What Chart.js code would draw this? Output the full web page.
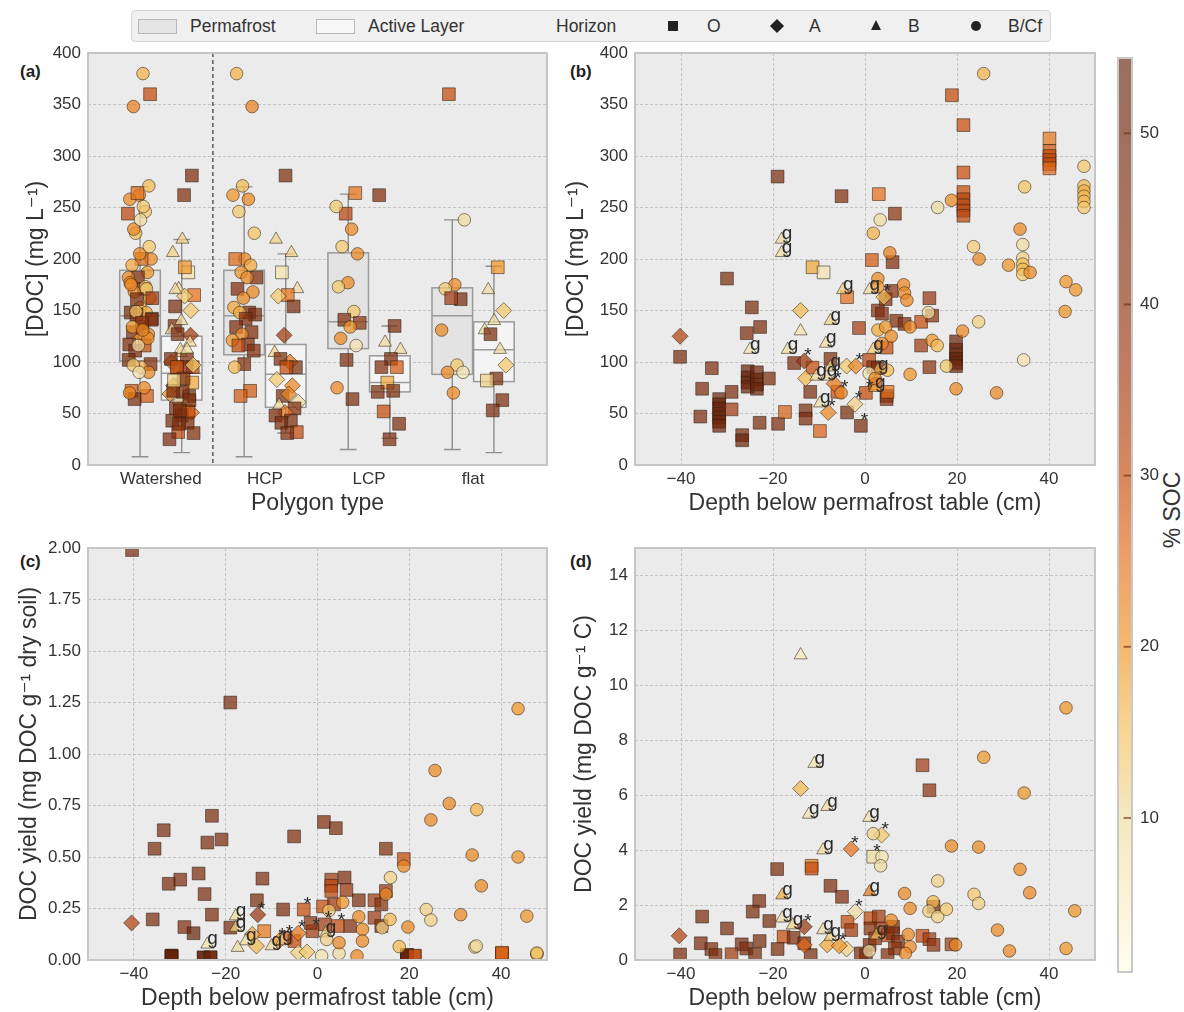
<!DOCTYPE html>
<html><head><meta charset="utf-8">
<script src="https://cdn.jsdelivr.net/npm/chart.js@4.4.1/dist/chart.umd.min.js"></script>
<style>
html,body{margin:0;padding:0;background:#fff;}
body{width:1184px;height:1012px;position:relative;overflow:hidden;font-family:"Liberation Sans","DejaVu Sans",Arial,sans-serif;color:#333;}
.panel{position:absolute;}
.plab{position:absolute;font-weight:bold;font-size:17px;color:#222;line-height:20px;}
#legend{position:absolute;left:131px;top:10px;width:918px;height:30px;background:#f0f0f0;border:1px solid #d6d6d6;border-radius:4px;}
.lg{position:absolute;top:0;line-height:30px;font-size:17.5px;color:#333;white-space:nowrap;}
.patch{position:absolute;top:8px;width:37px;height:13px;border:1px solid #b8b8b8;}
.mk{position:absolute;background:#222;}
#cbtitle{position:absolute;left:1122px;top:496px;width:100px;height:28px;line-height:28px;text-align:center;font-size:23px;color:#333;transform:rotate(-90deg);}
</style></head><body>
<div id="legend">
  <div class="patch" style="left:6px;background:#e4e4e4"></div><div class="lg" style="left:58px">Permafrost</div>
  <div class="patch" style="left:184px;background:#f8f8f8"></div><div class="lg" style="left:236px">Active Layer</div>
  <div class="lg" style="left:424px">Horizon</div>
  <div class="mk" style="left:536px;top:10px;width:10px;height:10px"></div><div class="lg" style="left:575px">O</div>
  <div class="mk" style="left:640px;top:10px;width:10px;height:10px;transform:rotate(45deg)"></div><div class="lg" style="left:677px">A</div>
  <div style="position:absolute;left:739px;top:9px;width:0;height:0;border-left:5.5px solid transparent;border-right:5.5px solid transparent;border-bottom:10px solid #222"></div><div class="lg" style="left:776px">B</div>
  <div class="mk" style="left:839px;top:10px;width:10px;height:10px;border-radius:50%"></div><div class="lg" style="left:876px">B/Cf</div>
</div>
<div class="plab" style="left:20px;top:62px">(a)</div>
<div class="plab" style="left:570px;top:62px">(b)</div>
<div class="plab" style="left:20px;top:552px">(c)</div>
<div class="plab" style="left:570px;top:552px">(d)</div>
<div id="cbtitle">% SOC</div>
<script>
// ======================= DATA =======================
const polygonTypes = ['Watershed', 'HCP', 'LCP', 'flat'];
const docTicks = [0, 50, 100, 150, 200, 250, 300, 350, 400];
const depthTicks = [-40, -20, 0, 20, 40];
const yieldSoilTicks = [0, 0.25, 0.5, 0.75, 1, 1.25, 1.5, 1.75, 2];
const yieldCTicks = [0, 2, 4, 6, 8, 10, 12, 14];
const socTicks = [10, 20, 30, 40, 50];
const socMin = 1, socMax = 54.4;

// Panel (a) box statistics, order: Watershed PF, Watershed AL, HCP PF, HCP AL, LCP PF, LCP AL, flat PF, flat AL
const boxLow  = [8, 12, 8, 31, 15, 26, 15, 12];
const boxQ1   = [101, 63, 107, 56, 113, 71, 88, 81];
const boxMed  = [145, 89, 145, 88, 139, 80, 145, 112];
const boxQ3   = [189, 125, 189, 117, 206, 106, 172, 139];
const boxHigh = [270, 219, 270, 205, 263, 135, 238, 193];

// Panel (a) strip points per polygon type and layer (DOC mg/L, %SOC, horizon)
const hcpPfDoc = [380,348,271,262,258,246,225,200,200,194,187,182,182,171,168,162,153,148,148,146,142,134,129,127,121,117,116,111,98,95,72,67];
const hcpPfSoc = [17,23,16,20,22,14,15,22,26,18,20,44,22,44,22,22,18,46,18,46,44,44,44,22,20,44,30,44,44,16,28,28];
const hcpPfHor = 'CCCCCCCCOCCOCOCCCOCOOOOCCOOOOCOO';
const hcpAlDoc = [281,219,206,187,171,165,164,154,126,109,100,103,95,95,83,77,67,61,69,58,55,51,48,43,41,32,31];
const hcpAlSoc = [46,12,12,8,10,25,14,46,36,12,24,46,44,30,14,22,46,10,22,10,44,24,46,46,46,30,44];
const hcpAlHor = 'OBBOBOAOABAOOOAAOAABOAOOOOO';
const lcpPfDoc = [264,244,251,229,212,205,177,173,149,141,138,134,123,116,102,75,64];
const lcpPfSoc = [25,32,14,22,14,22,22,14,14,44,40,20,22,8,46,22,46];
const lcpPfHor = 'OOCCCCCCCOOCCCOCO';
const lcpAlDoc = [262,135,119,112,103,95,95,80,71,72,52,40,25];
const lcpAlSoc = [44,46,10,10,46,44,28,18,46,46,30,46,46];
const lcpAlHor = 'OOBBOOOOOOOOO';
const flatPfDoc = [360,238,175,171,161,162,131,97,90,90,70];
const flatPfSoc = [30,10,22,14,46,36,22,14,22,8,22];
const flatPfHor = 'OCCCOOCCCCC';
const flatAlDoc = [192,170,150,140,131,112,127,97,84,82,63,53];
const flatAlSoc = [20,10,14,10,10,10,46,14,46,12,46,46];
const flatAlHor = 'OBABBBOAOOOO';

// Panel (b): DOC (mg/L) vs depth below permafrost table
const bDepth = [
 -40.2,-35.4,-35.8,-33.3,-31.7,-31.7,-31.7,-31.7,-31.7,-31.7,-31.7,-30,-29,-29,-26.7,-26.7,-25.7,-24.6,-25.5,-25.5,-25.5,-25.5,-23.5,-23.5,-23.5,-23.5,-22.8,-22.9,-20.9,-19,-18.9,-17.4,-15.4,-12.9,-12.9,-11.9,-11.4,-11.4,-9,-9.8,-7.5,-6,-5.1,-3.9,-3.9,-1.3,-0.9,0.9,0.2,1.5,1.8,2.2,2.8,2.8,3.0,3.7,4.5,4.7,4.7,4.7,4.9,5.8,6.0,6.5,6.8,8.6,12.2,12.2,14,14.6,14,18.9,19.8,19.8,19.8,19.8,19.8,19.8,21.4,21.4,21.4,21.4,21.4,21.4,21.4,40.1,40.1,40.1,40.1,40.1,40.1,
 -40.2,-14,-13.2,-12.9,-8,-6.7,-4,-2,-2.2,4.1,
 -25,-18.1,-18.1,-16.8,-14,-10.6,-8.3,-8.5,-7.5,-7.5,-9.8,-4.8,1.0,1.8,2.8,2.2,
 1.8,3.3,5.4,2.8,2.8,8.4,8.6,9.1,2.8,4.5,5.7,9.8,3.7,0.9,2.2,4.9,-5.2,9.8,13.8,14.6,15.7,17.7,19.8,21.2,24.7,28.6,15.8,18.8,23.6,24.8,25.8,31.2,33.7,34.3,34.3,34.3,34.3,34.3,34.5,34.7,35.9,43.5,43.7,45.8,47.6,47.6,47.6,47.6,47.6,47.6
];
const bDoc = [
 105,74,47,94,64,59,55,50,46,42,38,181,71,54,29,24,128,153,91,85,80,76,90,83,78,74,134,41,84,280,40,51.5,99,53,45,71,94.5,192,187,33,103,71,261,163,51,133,38,102,70,199,95,79,94,150,263,147,161,114,67,64,71,169,197,244,140,137,139,116,162,145,95,359,120,112,107,103,99,96,330,284,265,258,252,247,242,317,305,300,296,292,288,
 125,150,101,84,51,79,96,96,59,163,
 112,219,206,112,130,86,86,118,140,95,60,170,170,112,92,75,
 225,238,206,181,173,175,167,160,131,134,125,134,118,89,84,92,70,88,148,121,116,96,74,130,139,70,250,257,212,200,380,194,229,214,201,195,190,185,102,270,187,149,178,170,290,271,266,261,256,250
];
const bSoc = [
 46,46,46,45,50,52,52,52,52,52,50,46,46,36,46,52,46,46,50,52,52,52,50,52,52,52,46,46,46,46,46,27,46,46,46,46,30,18,8,27,46,30,44,25,46,35,46,32,30,28,40,28,44,42,25,44,44,30,44,40,25,42,44,40,44,44,30,36,38,40,42,30,50,50,52,52,52,50,30,30,30,32,32,32,32,24,28,30,30,30,26,
 33,16,38,16,22,24,14,22,12,16,
 8,10,10,10,8,10,10,10,12,12,10,12,10,14,16,18,
 17,10,23,22,20,22,22,22,18,20,22,22,22,8,22,16,22,20,10,20,16,14,22,22,12,22,10,22,13,22,17,20,22,10,12,15,16,14,8,15,22,20,20,20,14,16,17,16,16,14
];
const bHorizon = 'OOOOOOOOOO'+'OOOOOOOOOO'+'OOOOOOOOOO'+'OOOOOOOOOO'+'OOOOOOOOOO'+'OOOOOOOOOO'+'OOOOOOOOOO'+'OOOOOOOOOO'+'OOOOOOOOOO'+'O'
 + 'AAAAAAAAAA' + 'BBBBBBBBBBBBBBBB'
 + 'CCCCCCCCCC'+'CCCCCCCCCC'+'CCCCCCCCCC'+'CCCCCCCCCC'+'CCCCCCCCCC';
const bNote = '..........'+'..........'+'..........'+'..........'+'......'+'*.*'+'..........'+'..........'+'..........'+'..........'+'..'
 + '..*.**.***' + 'gggg.ggggggggggg'
 + '..........'+'......'+'*'+'..........'+'..........'+'..........'+'...';

// Panel (c): DOC yield (mg DOC / g dry soil) vs depth
const cDepth = [
 -40.4,-19,1.4,4,-5.1,-23,-33.5,-20.9,-24,-35.5,14.9,18.8,-25.9,-32.4,-29.9,-12,5.9,3,3,3,6.3,-24.6,14.9,9,12.4,13.9,-13.2,-7.5,-23,-35.9,-3,1.2,3.6,-29,-27,-19,7.1,12.4,13.9,-11.6,-6.9,-5,-1.1,-1.5,4.4,1.6,
 -31.8,-31.8,-31.8,-31.8,-24.8,-24.8,-23.3,-23.3,19.5,19.5,19.5,19.5,21.2,21.2,40.2,40.2,40.2,
 -40.5,-13,-14.2,-13.3,-4.2,-4.2,-2.3,-8.5,
 -17.8,-17.8,-15.6,-24,-17.4,-10,-7.7,1.8,
 43.7,25.6,28.7,34.7,24.7,33.7,43.7,18.8,15.9,35.7,14.9,5.5,23.7,24.7,31.2,45.6,14.1,15.8,19.7,9.8,9,9.8,0.9,4.7,2,4.7,8.6,17.8,34.3,34.6,47.8,2.5,47.8,47.8
];
const cYield = [
 1.99,1.25,0.67,0.64,0.60,0.70,0.63,0.585,0.57,0.54,0.54,0.49,0.42,0.37,0.39,0.395,0.40,0.39,0.36,0.335,0.34,0.32,0.335,0.29,0.29,0.27,0.29,0.245,0.22,0.197,0.245,0.26,0.27,0.16,0.13,0.157,0.165,0.205,0.165,0.14,0.108,0.092,0.14,0.18,0.165,0.173,
 0.02,0.018,0.022,0.016,0.011,0.013,0.011,0.014,0.023,0.02,0.018,0.025,0.019,0.021,0.032,0.03,0.035,
 0.18,0.22,0.124,0.068,0.13,0.036,0.039,0.09,
 0.213,0.157,0.092,0.076,0.06,0.068,0.092,0.13,
 1.22,0.92,0.76,0.73,0.68,0.51,0.50,0.456,0.40,0.36,0.32,0.28,0.245,0.194,0.22,0.213,0.157,0.197,0.16,0.149,0.21,0.092,0.02,0.032,0.1,0.084,0.02,0.065,0.063,0.068,0.031,0.24,0.028,0.034
];
const cSoc = [
 46,46,44,46,44,46,46,46,46,46,44,30,46,46,46,46,44,36,32,32,38,46,36,44,36,42,46,46,46,46,30,30,36,44,52,46,44,36,44,24,28,30,36,40,30,36,
 52,54,52,54,52,54,52,54,52,52,54,52,32,30,28,30,26,
 33,38,18,16,24,12,14,20,
 10,12,10,8,10,10,12,14,
 20,22,22,17,22,22,20,22,12,22,22,20,12,12,22,20,12,16,22,22,22,22,8,10,12,22,22,16,12,10,18,14,16,14
];
const cHorizon = 'OOOOOOOOOO'+'OOOOOOOOOO'+'OOOOOOOOOO'+'OOOOOOOOOO'+'OOOOOOOOOO'+'OOOOOOOOOO'+'OOO'
 + 'AAAAAAAA' + 'BBBBBBBB'
 + 'CCCCCCCCCC'+'CCCCCCCCCC'+'CCCCCCCCCC'+'CCCC';
const cNote = '..........'+'..........'+'..........'+'*'+'.........'+'*.*.**'+'..........'+'.......'
 + '.*..*..*' + 'gggg.ggg'
 + '..........'+'..........'+'..........'+'....';

// Panel (d): DOC yield (mg DOC / g C) vs depth
const dDepth = [
 12.5,14,1.8,-11.6,-11.6,-19.1,-7.5,-5,-23,-24.4,14.9,-35.4,-20.8,-30,-3.8,-3,1.2,3,1.2,3.5,5,6.1,6.1,7.2,6.5,4.9,1,2.2,0.2,-0.9,-17.7,-15.5,-13.2,-35.7,-33.4,-32.5,-40.2,-26.8,-25.8,-29,-23.9,-22.9,-19,-11.8,12.5,14,14.9,18.8,
 -14,3.6,-3,-2.1,-13.2,-40.4,-13.2,-8.2,-4,-5.6,
 -14,-11,-12.2,-8.2,0.9,-9.1,-18,1,-18,-15.7,-9.1,-7.5,2.5,
 43.7,25.8,34.6,1.8,18.8,24.7,3.7,3.4,33.7,15.8,8.6,35.8,23.7,24.7,14.8,13.9,15.8,17.7,9.8,45.6,28.8,5.7,9.4,9.8,8.8,0.9,19.7,31.4,43.7
];
const dYield = [
 7.09,6.18,3.76,3.43,3.33,3.31,2.7,2.3,2.15,1.76,1.94,1.58,1.42,1.15,1.39,1.09,1.52,1.58,1.15,1.15,0.9,1.21,0.97,0.67,0.42,0.18,0.55,0.79,0.18,0.24,0.85,0.81,0.61,0.61,0.4,0.18,0.2,0.57,0.42,0.21,0.21,0.69,0.4,0.18,0.88,0.76,0.55,0.57,
 6.24,4.55,4.04,1.76,1.21,0.88,0.55,0.55,0.4,0.52,
 11.1,7.15,5.3,5.58,5.18,4.0,2.36,2.48,1.52,1.27,1.09,0.85,0.9,
 9.18,7.38,6.08,4.6,4.15,4.11,3.76,3.43,3.3,2.88,2.42,2.45,2.39,2.06,2.12,1.78,1.58,1.85,1.88,1.79,1.09,1.45,0.93,0.48,0.24,0.33,0.55,0.33,0.42
];
const dSoc = [
 36,40,10,22,30,46,46,44,46,46,44,46,46,46,30,36,30,36,40,36,30,44,44,44,40,44,44,40,50,46,30,46,46,46,46,46,46,46,46,36,46,46,46,46,30,36,40,36,
 16,14,25,10,38,33,26,18,12,20,
 6,8,8,10,8,10,18,24,10,12,10,12,16,
 20,20,20,12,22,22,8,10,22,12,22,22,14,12,16,12,12,14,22,20,22,22,22,22,22,10,22,22,20
];
const dHorizon = 'OOOOOOOOOO'+'OOOOOOOOOO'+'OOOOOOOOOO'+'OOOOOOOOOO'+'OOOOOOOO'
 + 'AAAAAAAAAA' + 'BBBBBBBBBBBBB'
 + 'CCCCCCCCCC'+'CCCCCCCCCC'+'CCCCCCCCC';
const dNote = '..*.......'+'..........'+'..........'+'..........'+'........'
 + '.****....*' + '.gggggggggggg'
 + '..........'+'..........'+'.........';

// ======================= STYLE =======================
const FONT = '"Liberation Sans", "DejaVu Sans", Arial, sans-serif';
const TXT = '#333';
const cmapVals = [1, 10, 15, 20, 25, 30, 35, 40, 50, 54.4];
const cmapCols = [[255,253,228],[239,219,159],[244,194,91],[238,148,36],[228,112,26],[196,74,10],[165,60,16],[140,50,14],[110,38,12],[102,35,10]];
const ALPHA = 0.72;
const CB_ALPHA = 0.66;
const EDGE = 'rgba(45,32,22,0.55)';
const SHAPE = {O:'rect', A:'rectRot', B:'triangle', C:'circle'};
const RAD = {O:9, A:8, B:7.5, C:6.3};

Chart.defaults.font.family = FONT;
Chart.defaults.color = TXT;

function socRgb(s) {
  if (s <= cmapVals[0]) return cmapCols[0];
  for (let k = 1; k < cmapVals.length; k++) {
    if (s <= cmapVals[k]) {
      const t = (s - cmapVals[k-1]) / (cmapVals[k] - cmapVals[k-1]);
      return cmapCols[k-1].map((c, j) => c + (cmapCols[k][j] - c) * t);
    }
  }
  return cmapCols[cmapCols.length - 1];
}
function socColor(s, a) { const c = socRgb(s); return `rgba(${Math.round(c[0])},${Math.round(c[1])},${Math.round(c[2])},${a})`; }
function fmtNum(v) { return v < 0 ? '\u2212' + Math.abs(v) : String(v); }
function noPad(s) { s.paddingTop = 0; s.paddingBottom = 0; s.paddingLeft = 0; s.paddingRight = 0; }

function makeCanvas(left, top, w, h) {
  const d = document.createElement('div');
  d.className = 'panel';
  Object.assign(d.style, {left: left + 'px', top: top + 'px', width: w + 'px', height: h + 'px'});
  const c = document.createElement('canvas');
  c.width = w; c.height = h; c.style.width = w + 'px'; c.style.height = h + 'px';
  d.appendChild(c); document.body.appendChild(d);
  return c;
}

const bgPlugin = {
  id: 'panelBg',
  beforeDraw(chart) {
    const {ctx, chartArea: a} = chart;
    ctx.save(); ctx.fillStyle = '#ebebeb'; ctx.fillRect(a.left, a.top, a.width, a.height); ctx.restore();
  },
  afterDraw(chart) {
    const {ctx, chartArea: a} = chart;
    ctx.save(); ctx.strokeStyle = '#c6c6c6'; ctx.lineWidth = 2;
    ctx.strokeRect(a.left, a.top, a.width, a.height); ctx.restore();
  }
};
const notePlugin = {
  id: 'notes',
  afterDatasetsDraw(chart) {
    const ctx = chart.ctx;
    ctx.save();
    ctx.font = '19px ' + FONT; ctx.fillStyle = '#2a2a2a'; ctx.textAlign = 'left'; ctx.textBaseline = 'alphabetic';
    chart.data.datasets.forEach((ds, i) => {
      if (!ds.notes) return;
      const meta = chart.getDatasetMeta(i);
      ds.notes.forEach((t, j) => { if (t && t !== '.') { const el = meta.data[j]; ctx.fillText(t, el.x, el.y); } });
    });
    ctx.restore();
  }
};

function pointDataset(xs, ys, socs, hors, notes) {
  const h = hors.split('');
  return {
    type: 'scatter',
    data: xs.map((x, i) => ({x, y: ys[i]})),
    pointStyle: h.map(c => SHAPE[c]),
    pointRadius: h.map(c => RAD[c]),
    pointHoverRadius: h.map(c => RAD[c]),
    pointBackgroundColor: socs.map(s => socColor(s, ALPHA)),
    pointBorderColor: EDGE,
    pointBorderWidth: 1,
    showLine: false,
    clip: 0,
    notes: notes ? notes.split('') : null
  };
}

const gridStyle = {color: '#c3c3c3', lineWidth: 1, drawTicks: false};
const borderStyle = {display: false, dash: [3, 2]};
const tickFont = {size: 17};
const titleFont = {size: 23};

function yAxis(ticks, width, title, titlePad, fmt, maxV) {
  return {
    type: 'linear', min: ticks[0], max: maxV !== undefined ? maxV : ticks[ticks.length - 1],
    afterBuildTicks: s => { s.ticks = ticks.map(v => ({value: v})); },
    afterFit: s => { s.width = width; noPad(s); },
    ticks: {font: tickFont, color: TXT, padding: 7, callback: fmt || (v => fmtNum(v))},
    grid: gridStyle, border: borderStyle,
    title: {display: true, text: title, font: titleFont, color: TXT, padding: {top: titlePad, bottom: 0}}
  };
}
function xDepth(height, titlePad) {
  return {
    type: 'linear', min: -50, max: 50,
    afterBuildTicks: s => { s.ticks = depthTicks.map(v => ({value: v})); },
    afterFit: s => { s.height = height; noPad(s); },
    ticks: {font: tickFont, color: TXT, padding: 4, callback: v => fmtNum(v)},
    grid: gridStyle, border: borderStyle,
    title: {display: true, text: 'Depth below permafrost table (cm)', font: titleFont, color: TXT, padding: {top: 0, bottom: titlePad}}
  };
}
const baseOpts = (pad) => ({
  responsive: false, animation: false, devicePixelRatio: 1,
  layout: {padding: pad},
  plugins: {legend: {display: false}, tooltip: {enabled: false}}
});

// ======================= PANEL (a) =======================
const stripGroups = [
  {doc: hcpPfDoc.concat(lcpPfDoc, flatPfDoc), soc: hcpPfSoc.concat(lcpPfSoc, flatPfSoc), hor: hcpPfHor + lcpPfHor + flatPfHor},
  {doc: hcpAlDoc.concat(lcpAlDoc, flatAlDoc), soc: hcpAlSoc.concat(lcpAlSoc, flatAlSoc), hor: hcpAlHor + lcpAlHor + flatAlHor},
  {doc: hcpPfDoc, soc: hcpPfSoc, hor: hcpPfHor},
  {doc: hcpAlDoc, soc: hcpAlSoc, hor: hcpAlHor},
  {doc: lcpPfDoc, soc: lcpPfSoc, hor: lcpPfHor},
  {doc: lcpAlDoc, soc: lcpAlSoc, hor: lcpAlHor},
  {doc: flatPfDoc, soc: flatPfSoc, hor: flatPfHor},
  {doc: flatAlDoc, soc: flatAlSoc, hor: flatAlHor}
];
function groupCenter(k) { return Math.floor(k / 2) + (k % 2 ? 0.2 : -0.2); }
// deterministic strip-plot spread (layout only)
function spread(i, k) { return ((((i + 1) * 0.6180339 + k * 0.291) % 1) - 0.5) * 0.24; }

const boxPlugin = {
  id: 'boxes',
  beforeDatasetsDraw(chart) {
    const {ctx, chartArea: a, scales: {x, y}} = chart;
    ctx.save();
    ctx.strokeStyle = '#333'; ctx.lineWidth = 1.2; ctx.setLineDash([4, 3]);
    const xs = x.getPixelForValue(0.5);
    ctx.beginPath(); ctx.moveTo(xs, a.top); ctx.lineTo(xs, a.bottom); ctx.stroke();
    ctx.setLineDash([]);
    boxMed.forEach((m, k) => {
      const c = groupCenter(k);
      const xl = x.getPixelForValue(c - 0.195), xr = x.getPixelForValue(c + 0.195), xc = x.getPixelForValue(c);
      const cl = x.getPixelForValue(c - 0.08), cr = x.getPixelForValue(c + 0.08);
      const y1 = y.getPixelForValue(boxQ1[k]), y3 = y.getPixelForValue(boxQ3[k]);
      const yl = y.getPixelForValue(boxLow[k]), yh = y.getPixelForValue(boxHigh[k]), ym = y.getPixelForValue(m);
      ctx.strokeStyle = '#8e8e8e'; ctx.lineWidth = 1.4;
      ctx.beginPath();
      ctx.moveTo(xc, y3); ctx.lineTo(xc, yh); ctx.moveTo(cl, yh); ctx.lineTo(cr, yh);
      ctx.moveTo(xc, y1); ctx.lineTo(xc, yl); ctx.moveTo(cl, yl); ctx.lineTo(cr, yl);
      ctx.stroke();
      ctx.fillStyle = k % 2 ? '#f4f4f4' : '#e3e3e3';
      ctx.fillRect(xl, y3, xr - xl, y1 - y3);
      ctx.strokeStyle = '#9a9a9a'; ctx.lineWidth = 1.5;
      ctx.strokeRect(xl, y3, xr - xl, y1 - y3);
      ctx.beginPath(); ctx.moveTo(xl, ym); ctx.lineTo(xr, ym); ctx.stroke();
    });
    ctx.restore();
  }
};

new Chart(makeCanvas(0, 40, 560, 480), {
  type: 'scatter',
  data: {datasets: stripGroups.map((g, k) => pointDataset(g.doc.map((_, i) => groupCenter(k) + spread(i, k)), g.doc, g.soc, g.hor, null))},
  options: Object.assign(baseOpts({left: 0, top: 13, right: 13, bottom: 0}), {
    scales: {
      x: {
        type: 'linear', min: -0.70, max: 3.71,
        afterBuildTicks: s => { s.ticks = polygonTypes.map((_, i) => ({value: i})); },
        afterFit: s => { s.height = 55; noPad(s); },
        ticks: {font: tickFont, color: TXT, padding: 4, callback: v => polygonTypes[v] || ''},
        grid: {display: false, drawTicks: false}, border: {display: false},
        title: {display: true, text: 'Polygon type', font: titleFont, color: TXT, padding: {top: 0, bottom: 3}}
      },
      y: yAxis(docTicks, 88, '[DOC] (mg L\u207B\u00B9)', 23)
    }
  }),
  plugins: [bgPlugin, boxPlugin, notePlugin]
});

// ======================= PANEL (b) =======================
new Chart(makeCanvas(560, 40, 560, 480), {
  type: 'scatter',
  data: {datasets: [pointDataset(bDepth, bDoc, bSoc, bHorizon, bNote)]},
  options: Object.assign(baseOpts({left: 0, top: 13, right: 25, bottom: 0}), {
    scales: {x: xDepth(55, 3), y: yAxis(docTicks, 75, '[DOC] (mg L\u207B\u00B9)', 3)}
  }),
  plugins: [bgPlugin, notePlugin]
});

// ======================= PANEL (c) =======================
new Chart(makeCanvas(0, 535, 560, 477), {
  type: 'scatter',
  data: {datasets: [pointDataset(cDepth, cYield, cSoc, cHorizon, cNote)]},
  options: Object.assign(baseOpts({left: 0, top: 13, right: 13, bottom: 0}), {
    scales: {x: xDepth(52, 0), y: yAxis(yieldSoilTicks, 88, 'DOC yield (mg DOC g\u207B\u00B9 dry soil)', 16, v => v.toFixed(2))}
  }),
  plugins: [bgPlugin, notePlugin]
});

// ======================= PANEL (d) =======================
new Chart(makeCanvas(560, 535, 560, 477), {
  type: 'scatter',
  data: {datasets: [pointDataset(dDepth, dYield, dSoc, dHorizon, dNote)]},
  options: Object.assign(baseOpts({left: 0, top: 13, right: 25, bottom: 0}), {
    scales: {x: xDepth(52, 0), y: yAxis(yieldCTicks, 75, 'DOC yield (mg DOC g\u207B\u00B9 C)', 11, null, 15)}
  }),
  plugins: [bgPlugin, notePlugin]
});

// ======================= COLORBAR =======================
const cbPlugin = {
  id: 'cbDeco',
  afterDatasetsDraw(chart) {
    const {ctx, chartArea: a, scales: {y}} = chart;
    ctx.save();
    ctx.strokeStyle = 'rgba(105,42,10,0.6)'; ctx.lineWidth = 2;
    socTicks.forEach(v => {
      const py = y.getPixelForValue(v);
      ctx.beginPath(); ctx.moveTo(a.left + a.width * 0.4, py); ctx.lineTo(a.right - 1, py); ctx.stroke();
    });
    ctx.strokeStyle = '#c8c8c8'; ctx.lineWidth = 2;
    ctx.strokeRect(a.left, a.top, a.width, a.height);
    ctx.restore();
  }
};
new Chart(makeCanvas(1100, 50, 84, 930), {
  type: 'bar',
  data: {labels: ['SOC'], datasets: [{
    data: [[socMin, socMax]],
    barPercentage: 1, categoryPercentage: 1, borderWidth: 0, borderSkipped: false,
    backgroundColor: c => {
      const ch = c.chart, ys = ch.scales.y;
      if (!ch.chartArea || !ys) return 'rgba(0,0,0,0)';
      const g = ch.ctx.createLinearGradient(0, ys.getPixelForValue(socMin), 0, ys.getPixelForValue(socMax));
      cmapVals.forEach(v => g.addColorStop(Math.min(1, Math.max(0, (v - socMin) / (socMax - socMin))), socColor(v, CB_ALPHA)));
      return g;
    }
  }]},
  options: Object.assign(baseOpts({left: 18, top: 8, right: 0, bottom: 8}), {
    scales: {
      x: {display: false},
      y: {
        position: 'right', min: socMin, max: socMax,
        afterBuildTicks: s => { s.ticks = socTicks.map(v => ({value: v})); },
        afterFit: s => { s.width = 52; noPad(s); },
        ticks: {font: tickFont, color: TXT, padding: 8},
        grid: {display: false, drawTicks: false}, border: {display: false}
      }
    }
  }),
  plugins: [cbPlugin]
});

[['b', bDepth, bDoc, bSoc, bHorizon, bNote], ['c', cDepth, cYield, cSoc, cHorizon, cNote], ['d', dDepth, dYield, dSoc, dHorizon, dNote]].forEach(r => {
  const L = r.slice(1).map(a => a.length);
  if (new Set(L).size !== 1) console.error('length mismatch panel ' + r[0] + ': ' + L.join(','));
});
</script>
</body></html>
